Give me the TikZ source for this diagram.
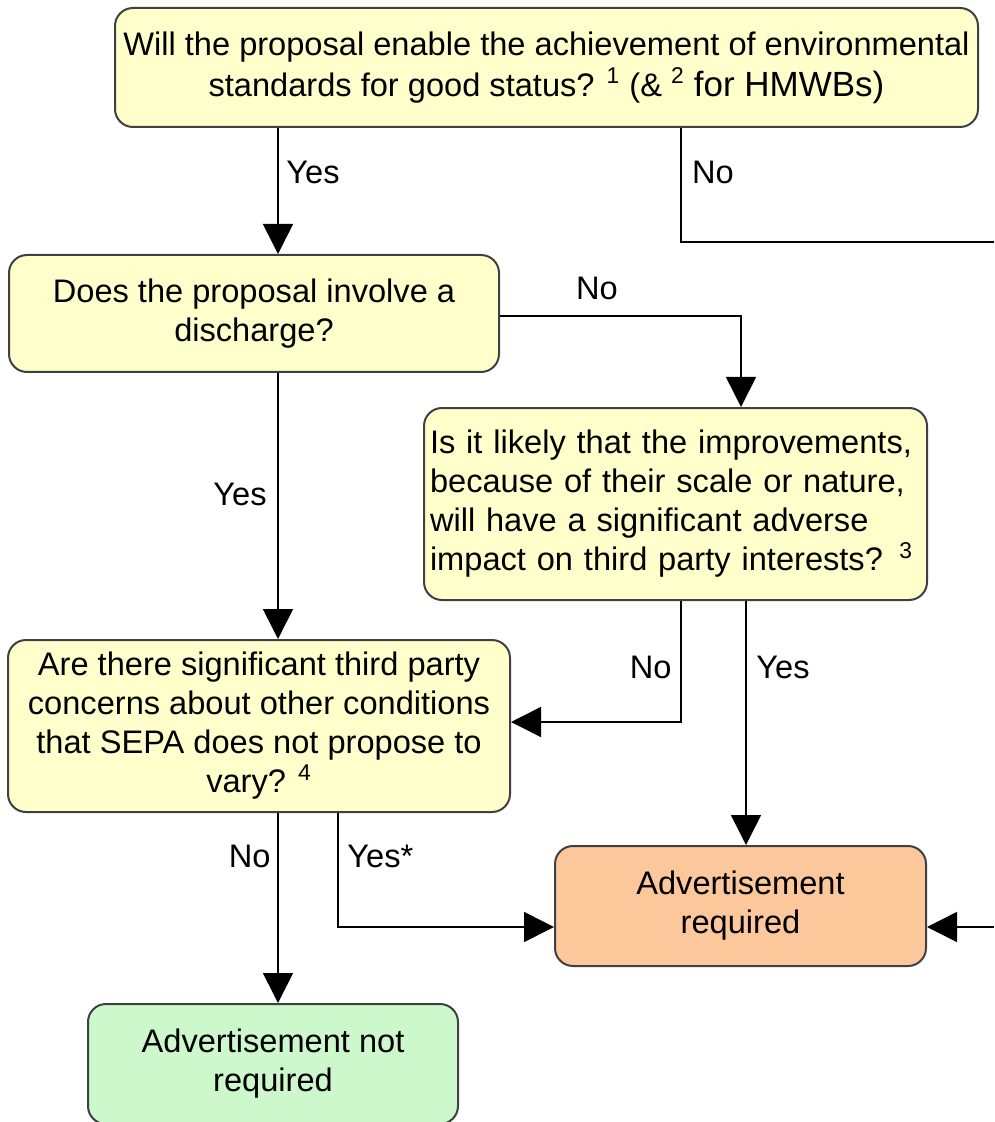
\documentclass[tikz,border=0pt]{standalone}
\usepackage{fontspec}
\setmainfont{Liberation Sans}
\usetikzlibrary{arrows.meta}

\definecolor{qyellow}{HTML}{FFFFCC}
\definecolor{advorange}{HTML}{FCC89B}
\definecolor{noadvgreen}{HTML}{CCF8CC}

\begin{document}
\begin{tikzpicture}[x=0.5pt, y=-0.5pt,
  box/.style={draw=black!75, line width=1pt, rounded corners=9pt, inner sep=0pt,
    align=center, font=\fontsize{16.3}{19.5}\selectfont},
  question/.style={box, fill=qyellow},
  flow/.style={line width=0.8pt, -{Triangle[width=15pt,length=15pt]}},
  plain/.style={line width=0.8pt},
  lab/.style={inner sep=0pt, font=\fontsize{16.3}{19.5}\selectfont}]
  \useasboundingbox (0,0) rectangle (994,1122);

  \node[question, minimum width=431.5pt, minimum height=59.5pt,
    font=\fontsize{16.3}{20.5}\selectfont] (q1) at (546.5,67.5)
    {Will the proposal enable the achievement of environmental\\
     standards for good status? \textsuperscript{1} (\& \textsuperscript{2}
     {\fontsize{17.5}{20.5}\selectfont for HMWBs)}};
  \node[question, minimum width=245pt, minimum height=58.5pt] (q2) at (254,313.5)
    {Does the proposal involve a\\ discharge?};
  \node[question, minimum height=96pt, text width=245.5pt, inner xsep=3pt,
    align=left] (q3) at (675.5,504)
    {Is it likely that the improvements,\\ because of their scale or nature,\\
     will have a significant adverse\\ impact on third party interests? \textsuperscript{3}};
  \node[question, minimum width=251pt, minimum height=86pt] (q4) at (259,726)
    {Are there significant third party\\ concerns about other conditions\\
     that SEPA does not propose to\\ vary? \textsuperscript{4}};
  \node[box, fill=advorange, minimum width=185.5pt, minimum height=60pt] (adv) at (740.5,906)
    {Advertisement\\ required};
  \node[box, fill=noadvgreen, minimum width=185pt, minimum height=60pt] (noadv) at (273,1064)
    {Advertisement not\\ required};

  % bend points and loose ends
  \coordinate (xa) at (278,0);
  \coordinate (xb) at (681,0);
  \coordinate (xc) at (741,0);
  \coordinate (xd) at (746,0);
  \coordinate (xe) at (338,0);
  \coordinate (outtop) at (994,242);
  \coordinate (outbot) at (994,927);

  \draw[flow] (q1.south -| xa) -- (q2.north -| xa);
  \draw[plain] (q1.south -| xb) |- (outtop);
  \draw[flow] (q2.east |- 0,316) -| (q3.north -| xc);
  \draw[flow] (q2.south -| xa) -- (q4.north -| xa);
  \draw[flow] (q3.south -| xb) |- (q4.east |- 0,722);
  \draw[flow] (q3.south -| xd) -- (adv.north -| xd);
  \draw[flow] (q4.south -| xa) -- (noadv.north -| xa);
  \draw[flow] (q4.south -| xe) |- (adv.west |- outbot);
  \draw[flow] (outbot) -- (adv.east |- outbot);

  \node[lab] (yes1) at (313,172) {Yes};
  \node[lab] (no1) at (713,172) {No};
  \node[lab] (no2) at (597,288) {No};
  \node[lab] (yes2) at (240,494) {Yes};
  \node[lab, anchor=east] (no3) at (672,667) {No};
  \node[lab] (yes3) at (783,667) {Yes};
  \node[lab, anchor=east] (no4) at (271,856) {No};
  \node[lab, anchor=west] (yes4) at (347,856) {Yes*};
\end{tikzpicture}
\end{document}
